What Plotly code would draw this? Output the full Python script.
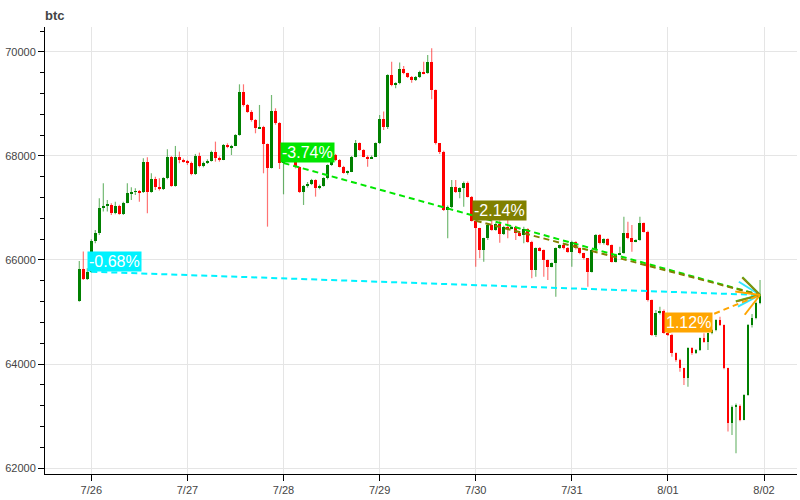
import math
import pandas as pd
import plotly.graph_objects as go

# ---------------- data (hourly candles) ----------------
first_hour = "2024-07-25 21:00"
opens = [65219, 65821, 65629, 65775, 66366, 66513, 67007, 67039, 67065, 66898,
         67040, 66879, 67103, 67283, 67308, 67320, 67300, 67892, 67315, 67558,
         67398, 67359, 67571, 67988, 67424, 67975, 67924, 67900, 67860, 67648,
         68000, 67808, 67860, 67911, 68084, 67968, 67930, 68212, 68170, 68199,
         68404, 69237, 68981, 68853, 68692, 68532, 68564, 68224, 67776, 68865,
         68628, 67865, 67990, 67930, 68000, 67780, 67314, 67420, 67461, 67530,
         67378, 67430, 67570, 67827, 68019, 67923, 67795, 67680, 67700, 67987,
         68244, 68115, 67990, 67960, 67990, 68244, 68705, 68551, 69558, 69365,
         69400, 69667, 69590, 69526, 69462, 69520, 69622, 69590, 69814, 69269,
         68244, 68083, 66962, 67026, 67410, 67314, 67378, 67487, 67218, 66756,
         66609, 66192, 66417, 66673, 66577, 66690, 66500, 66641, 66609, 66641,
         66513, 66480, 66600, 66353, 65808, 66224, 66192, 66000, 65872, 65936,
         66224, 66288, 66224, 66160, 66353, 66224, 66128, 66032, 65776, 66192,
         66481, 66321, 66400, 66288, 65968, 66100, 66130, 66513, 66417, 66353,
         66385, 66705, 66545, 65231, 64558, 64974, 65020, 64603, 64560, 64205,
         64077, 63917, 63725, 64301, 64205, 64270, 64494, 64430, 64590, 64654,
         64846, 64750, 63917, 62859, 63180, 63200, 62930, 63404, 64750, 64878,
         65167]
highs = [65981, 66161, 65840, 66398, 66577, 67186, 67475, 67154, 67090, 67122,
         67060, 67120, 67475, 67398, 67380, 67347, 67956, 67975, 67667, 67600,
         67571, 67590, 68129, 68000, 68193, 68084, 67950, 67924, 67892, 68039,
         68065, 67892, 67936, 68103, 68276, 67990, 68230, 68244, 68215, 68420,
         69378, 69378, 69000, 68880, 68710, 68981, 68580, 68240, 69173, 68917,
         68650, 68050, 68050, 68080, 68020, 67800, 67440, 67500, 67560, 67551,
         67450, 67590, 67840, 68050, 68040, 67940, 67810, 67720, 68000, 68308,
         68260, 68130, 68010, 68010, 68260, 68788, 68853, 69570, 69814, 69420,
         69795, 69731, 69600, 69540, 69540, 69640, 69814, 69942, 70070, 69280,
         68250, 68100, 67050, 67538, 67540, 67400, 67510, 67510, 67230, 66800,
         66620, 66430, 66690, 66801, 66710, 66760, 66660, 66770, 66660, 66660,
         66545, 66640, 66610, 66370, 66240, 66250, 66200, 66010, 65950, 66240,
         66300, 66320, 66250, 66370, 66360, 66240, 66140, 66040, 66210, 66500,
         66500, 66420, 66420, 66300, 66120, 66256, 66833, 66737, 66673, 66400,
         66833, 66720, 66560, 65240, 65040, 65100, 65050, 64640, 64580, 64220,
         64100, 63930, 64320, 64320, 64290, 64510, 64590, 64600, 64670, 64860,
         64910, 64760, 63930, 63200, 63240, 63220, 63420, 64770, 64960, 65200,
         65616]
lows = [65199, 65616, 65616, 65757, 66321, 66481, 66930, 66930, 66866, 66879,
        66870, 66866, 67090, 67154, 67250, 67122, 67290, 66898, 67295, 67347,
        67334, 67347, 67552, 67410, 67410, 67860, 67873, 67828, 67629, 67635,
        67782, 67782, 67847, 67892, 67891, 67891, 67920, 68150, 68019, 68190,
        68390, 68950, 68830, 68660, 68436, 68520, 67667, 66641, 67760, 68600,
        67750, 67263, 67900, 67900, 67760, 67290, 67058, 67390, 67440, 67218,
        67360, 67410, 67550, 67810, 67900, 67780, 67660, 67640, 67690, 67975,
        68100, 67975, 67795, 67950, 67980, 68230, 68500, 68520, 69340, 69300,
        69380, 69570, 69500, 69410, 69440, 69500, 69570, 69580, 69090, 68220,
        68040, 66940, 66417, 67000, 67290, 67186, 67026, 67200, 66740, 65872,
        66032, 65968, 66385, 66560, 66560, 66330, 66480, 66417, 66590, 66385,
        66450, 66321, 66330, 65647, 65679, 66170, 65679, 65615, 65860, 65295,
        66210, 66200, 66140, 65872, 66200, 66110, 66010, 65487, 65760, 66180,
        66300, 66300, 66270, 65950, 65950, 66090, 66120, 66400, 66160, 66340,
        66370, 66530, 65200, 64540, 64520, 64950, 64580, 64540, 64141, 64045,
        63853, 63596, 63564, 64180, 64190, 64250, 64410, 64270, 64570, 64630,
        64730, 63900, 62700, 62635, 62282, 62900, 62920, 63390, 64700, 64860,
        65150]
closes = [65821, 65629, 65775, 66366, 66513, 67007, 67039, 67065, 66898, 67040,
          66879, 67103, 67283, 67308, 67320, 67300, 67892, 67315, 67558, 67398,
          67359, 67571, 67988, 67424, 67975, 67924, 67900, 67860, 67648, 68000,
          67808, 67860, 67911, 68084, 67968, 67930, 68212, 68170, 68199, 68404,
          69237, 68981, 68853, 68692, 68532, 68564, 68224, 67776, 68865, 68628,
          67865, 67990, 67930, 68000, 67780, 67314, 67420, 67461, 67530, 67378,
          67430, 67570, 67827, 68019, 67923, 67795, 67680, 67700, 67987, 68244,
          68115, 67990, 67960, 67990, 68244, 68705, 68551, 69558, 69365, 69400,
          69667, 69590, 69526, 69462, 69520, 69622, 69590, 69814, 69269, 68244,
          68083, 66962, 67026, 67410, 67314, 67378, 67487, 67218, 66756, 66609,
          66192, 66417, 66673, 66577, 66690, 66500, 66641, 66609, 66641, 66513,
          66480, 66600, 66353, 65808, 66224, 66192, 66000, 65872, 65936, 66224,
          66288, 66224, 66160, 66353, 66224, 66128, 66032, 65776, 66192, 66481,
          66321, 66400, 66288, 65968, 66100, 66130, 66513, 66417, 66353, 66385,
          66705, 66545, 65231, 64558, 64974, 65020, 64603, 64560, 64205, 64077,
          63917, 63725, 64301, 64205, 64270, 64494, 64430, 64590, 64654, 64846,
          64750, 63917, 62859, 63180, 63200, 62930, 63404, 64750, 64878, 65167,
          65327]

# comparisons: start candle (by timestamp) -> last close
cmp_starts = ["2024-07-26 00:00", "2024-07-28 00:00", "2024-07-30 00:00", "2024-08-01 00:00"]
cmp_labels = ["-0.68%", "-3.74%", "-2.14%", "1.12%"]
cmp_colors = ["#00f2ff", "#00e600", "#808000", "#ffa500"]
head_colors = ["#33e6ff", "#33dd33", "#8a8a10", "#ffa500"]

day_ticks = ["2024-07-26", "2024-07-27", "2024-07-28", "2024-07-29",
             "2024-07-30", "2024-07-31", "2024-08-01", "2024-08-02"]
day_labels = ["7/26", "7/27", "7/28", "7/29", "7/30", "7/31", "8/01", "8/02"]
y_ticks = [62000, 64000, 66000, 68000, 70000]

x_range = ["2024-07-25 12:26", "2024-08-02 08:14"]
y_range = [61885, 70480]

# ---------------- figure ----------------
times = pd.date_range(first_hour, periods=len(closes), freq="h")
UP, DOWN = "#008000", "#ff0000"
UP_W, DOWN_W = "rgba(0,128,0,0.55)", "rgba(255,0,0,0.55)"

fig = go.Figure()

# wicks
for is_up, col in ((True, UP_W), (False, DOWN_W)):
    wx, wy = [], []
    for t, o, h, l, c in zip(times, opens, highs, lows, closes):
        if (c >= o) == is_up:
            wx += [t, t, None]
            wy += [l, h, None]
    fig.add_trace(go.Scatter(x=wx, y=wy, mode="lines",
                             line=dict(color=col, width=1.2), hoverinfo="skip"))

# bodies
for is_up, col in ((True, UP), (False, DOWN)):
    bx, bbase, bh = [], [], []
    for t, o, c in zip(times, opens, closes):
        if (c >= o) == is_up:
            bx.append(t)
            bbase.append(min(o, c))
            bh.append(max(abs(c - o), 18))
    fig.add_trace(go.Bar(x=bx, y=bh, base=bbase, width=0.72 * 3600 * 1000,
                         marker=dict(color=col, line=dict(width=0))))

# comparison lines + arrowheads + labels
L_MARGIN, R_MARGIN, T_MARGIN, B_MARGIN = 45, 3, 27, 26
W, H = 800, 500
plot_w = W - L_MARGIN - R_MARGIN
plot_h = H - T_MARGIN - B_MARGIN
xr0, xr1 = pd.Timestamp(x_range[0]), pd.Timestamp(x_range[1])
kx = plot_w / ((xr1 - xr0).total_seconds() * 1000)   # px per ms
ky = plot_h / (y_range[1] - y_range[0])               # px per price unit

t_end = times[-1]
p_end = closes[-1]
time_list = list(times)
for s, lab, col, hcol in zip(cmp_starts, cmp_labels, cmp_colors, head_colors):
    ts = pd.Timestamp(s)
    ps = opens[time_list.index(ts)]
    fig.add_trace(go.Scatter(x=[ts, t_end], y=[ps, p_end], mode="lines",
                             line=dict(color=col, width=2, dash="6px,4px"),
                             hoverinfo="skip"))
    # open arrowhead, built in pixel space
    dx = (t_end - ts).total_seconds() * 1000 * kx
    dy = (p_end - ps) * ky
    n = math.hypot(dx, dy)
    ux, uy = -dx / n, -dy / n
    hx, hy = [], []
    for ang in (math.radians(30), math.radians(-30)):
        rx = ux * math.cos(ang) - uy * math.sin(ang)
        ry = ux * math.sin(ang) + uy * math.cos(ang)
        arm = 25
        hx += [t_end + pd.Timedelta(milliseconds=rx * arm / kx), t_end, None]
        hy += [p_end + ry * arm / ky, p_end, None]
    fig.add_trace(go.Scatter(x=hx, y=hy, mode="lines",
                             line=dict(color=hcol, width=2), hoverinfo="skip"))
    fig.add_annotation(x=ts, y=ps, text=lab, showarrow=False,
                       xanchor="left", yanchor="bottom", xshift=-4, yshift=0,
                       bgcolor=col, borderpad=1,
                       font=dict(color="white", size=16,
                                 family="Liberation Sans, Arial"))

fig.update_layout(
    width=W, height=H,
    margin=dict(l=L_MARGIN, r=R_MARGIN, t=T_MARGIN, b=B_MARGIN),
    paper_bgcolor="white", plot_bgcolor="white",
    showlegend=False, barmode="overlay", bargap=0,
    font=dict(family="Liberation Sans, Arial", color="#444"),
    title=dict(text="<b>btc</b>", x=L_MARGIN / W, xanchor="left",
               y=1 - 15 / H, yanchor="middle",
               font=dict(size=13, color="#444")),
)
fig.update_xaxes(
    type="date", range=x_range,
    tickvals=day_ticks, ticktext=day_labels,
    showgrid=True, gridcolor="#e5e5e5", gridwidth=1,
    showline=True, linecolor="black", linewidth=1,
    ticks="outside", ticklen=6, tickcolor="black",
    tickfont=dict(size=11, color="#444"), zeroline=False,
    rangeslider=dict(visible=False),
)
fig.update_yaxes(
    range=y_range, tickvals=y_ticks, tickformat="d",
    showgrid=True, gridcolor="#e5e5e5", gridwidth=1,
    showline=True, linecolor="black", linewidth=1,
    ticks="outside", ticklen=6, tickcolor="black",
    minor=dict(dtick=400, ticks="outside", ticklen=4, tickcolor="black",
               showgrid=False),
    tickfont=dict(size=11, color="#444"), zeroline=False,
)

fig.write_html(
    "out.html",
    config={"displayModeBar": False},
    post_script="document.body.style.margin='0';document.body.style.overflow='hidden';",
)
